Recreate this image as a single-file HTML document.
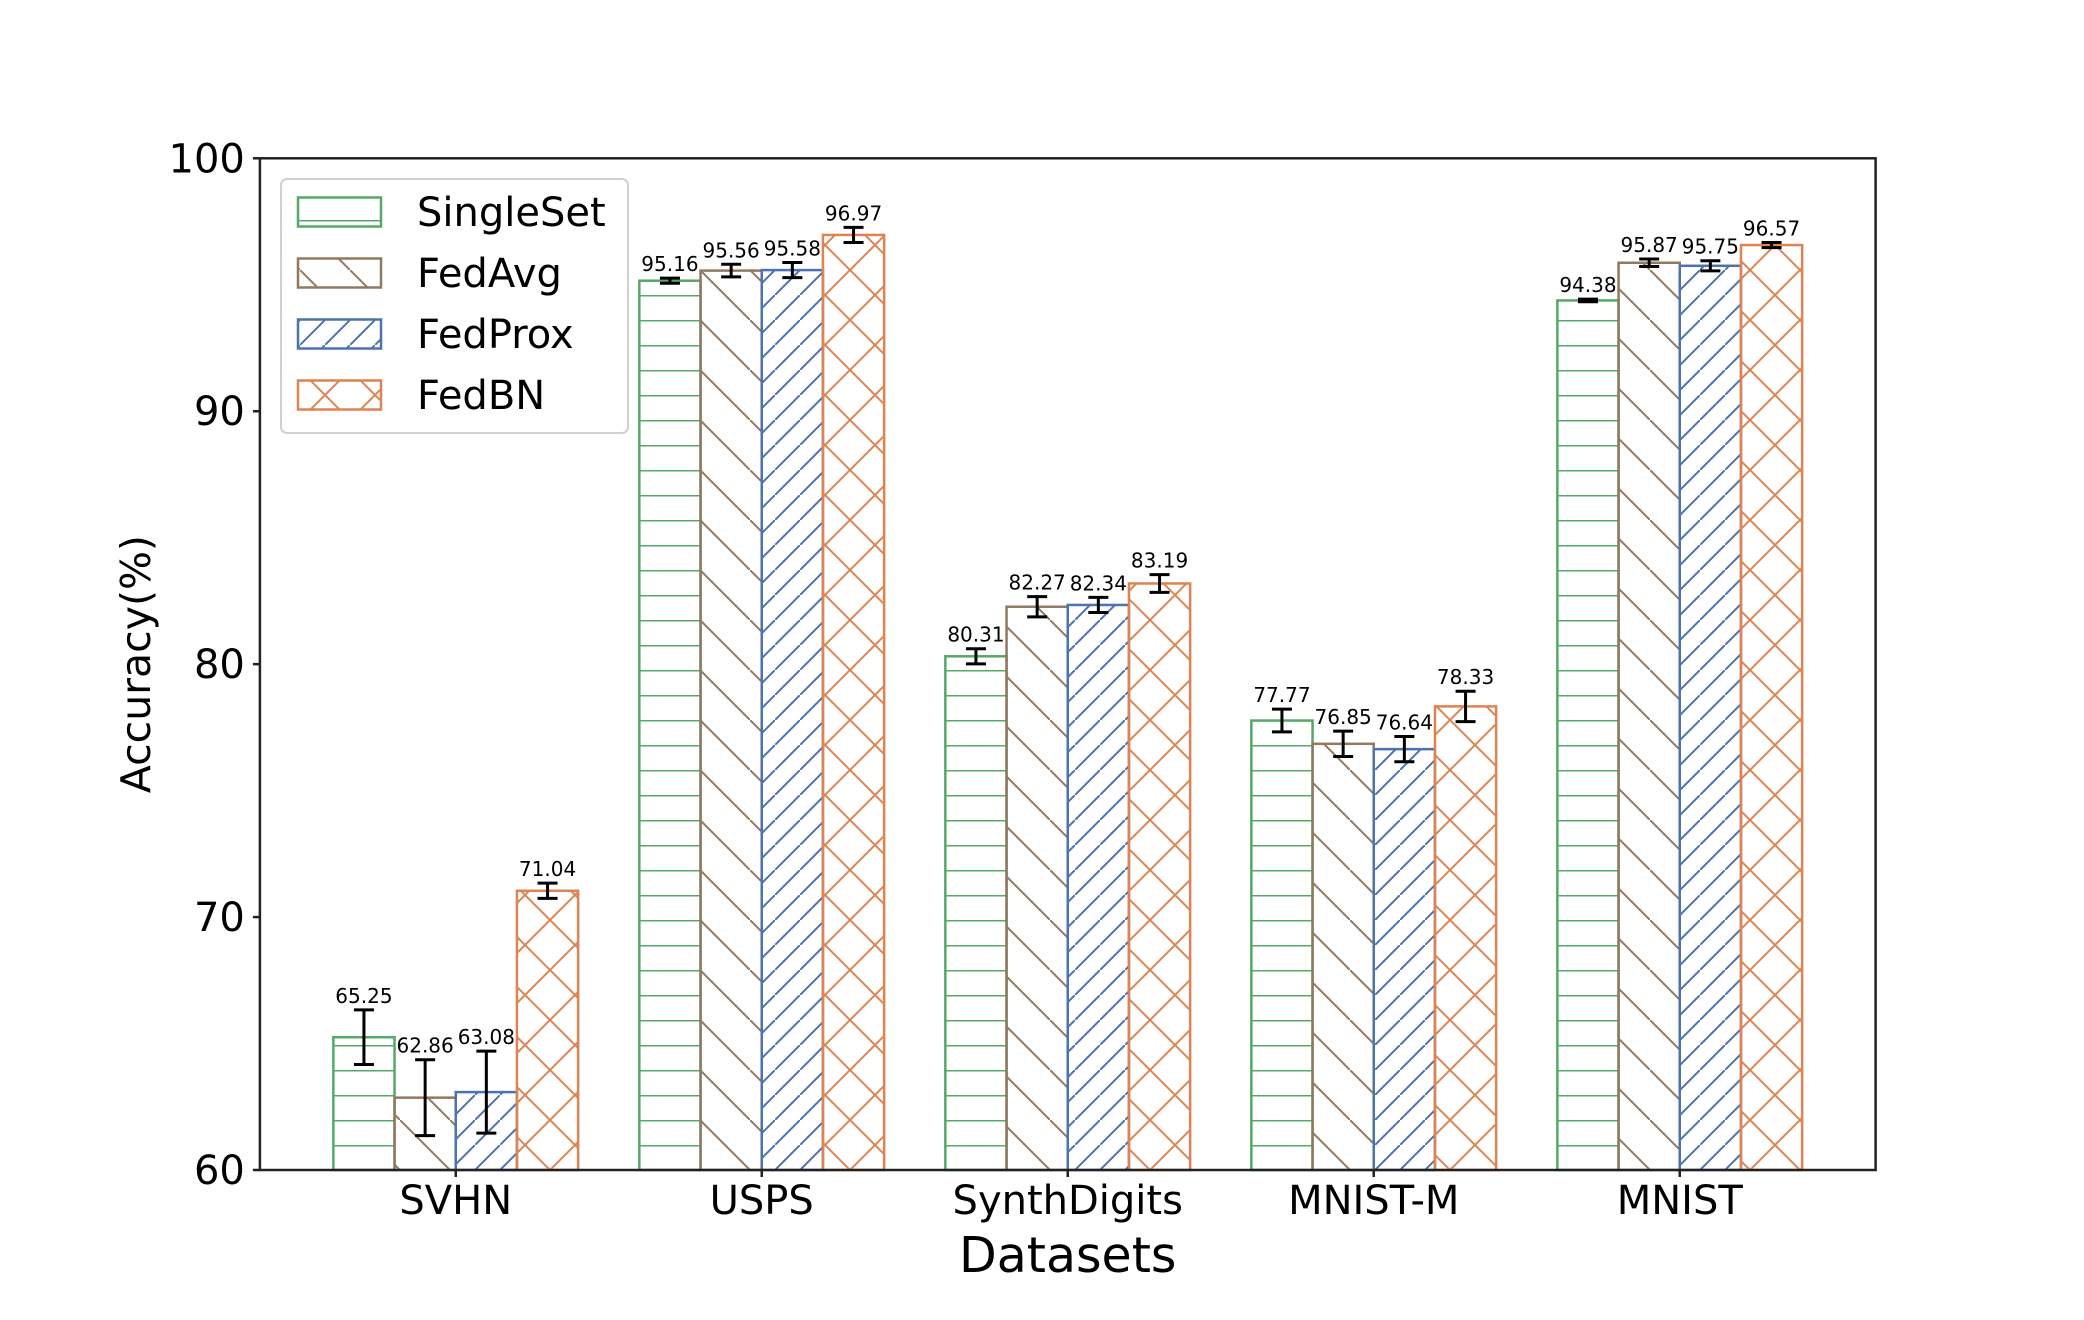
<!DOCTYPE html>
<html><head><meta charset="utf-8"><style>
body{margin:0;background:#fff;}
svg text{font-family:"DejaVu Sans","Liberation Sans",sans-serif;}
</style></head><body>
<svg id="chart" width="2084" height="1315" viewBox="0 0 2084 1315" xmlns="http://www.w3.org/2000/svg">
<defs>
<pattern id="h-single" patternUnits="userSpaceOnUse" width="25" height="25" x="0" y="1170"><line x1="0" y1="0" x2="25" y2="0" stroke="#55a868" stroke-width="3"/></pattern>
<pattern id="h-avg" patternUnits="userSpaceOnUse" width="50" height="50" x="0" y="1170"><line x1="-5" y1="-5" x2="55" y2="55" stroke="#937860" stroke-width="2"/></pattern>
<pattern id="h-prox" patternUnits="userSpaceOnUse" width="25" height="25" x="0" y="1170"><line x1="-5" y1="30" x2="30" y2="-5" stroke="#4c72b0" stroke-width="2"/></pattern>
<pattern id="h-bn" patternUnits="userSpaceOnUse" width="50" height="50" x="0" y="1170"><line x1="-5" y1="-5" x2="55" y2="55" stroke="#dd8452" stroke-width="2"/><line x1="-5" y1="55" x2="55" y2="-5" stroke="#dd8452" stroke-width="2"/></pattern>
</defs>
<g id="plot"></g>
</svg>
<script>
const categories = ["SVHN","USPS","SynthDigits","MNIST-M","MNIST"];
const seriesNames = ["SingleSet","FedAvg","FedProx","FedBN"];
const singleSet = [65.25,95.16,80.31,77.77,94.38];
const fedAvg = [62.86,95.56,82.27,76.85,95.87];
const fedProx = [63.08,95.58,82.34,76.64,95.75];
const fedBN = [71.04,96.97,83.19,78.33,96.57];
const singleSetErr = [1.08,0.1,0.3,0.45,0.05];
const fedAvgErr = [1.5,0.25,0.4,0.5,0.15];
const fedProxErr = [1.62,0.3,0.3,0.5,0.2];
const fedBNErr = [0.3,0.3,0.35,0.6,0.1];
const yTicks = [60,70,80,90,100];

const NS="http://www.w3.org/2000/svg";
const L=259.9,R=1875.6,T=158.3,B=1170;
const yMin=60,yMax=100;
const xs=i=>L+(i+0.64)*(R-L)/5.28;
const ys=v=>B-(v-yMin)*(B-T)/(yMax-yMin);
const unit=(R-L)/5.28;
const bw=unit*0.2;
const g=document.getElementById('plot');
function mk(tag,attrs,parent){const e=document.createElementNS(NS,tag);for(const k in attrs)e.setAttribute(k,attrs[k]);(parent||g).appendChild(e);return e;}
const series=[singleSet,fedAvg,fedProx,fedBN];
const errs=[singleSetErr,fedAvgErr,fedProxErr,fedBNErr];
const colors=["#55a868","#937860","#4c72b0","#dd8452"];
const fills=["url(#h-single)","url(#h-avg)","url(#h-prox)","url(#h-bn)"];
const keys=["singleset","fedavg","fedprox","fedbn"];
for(let s=0;s<4;s++){
  for(let i=0;i<categories.length;i++){
    const v=series[s][i];
    const x0=xs(i)+(s-2)*bw;
    const r=mk('rect',{x:x0,y:ys(v),width:bw,height:ys(yMin)-ys(v),fill:fills[s],stroke:colors[s],'stroke-width':2.5});
    
    
  }
}
for(let s=0;s<4;s++){
  for(let i=0;i<categories.length;i++){
    const v=series[s][i],e=errs[s][i];
    const cx=xs(i)+(s-1.5)*bw;
    const eg=mk('g',{});
    
    
    const yt=ys(v+e),yb=Math.min(ys(v-e),B);
    mk('line',{x1:cx,x2:cx,y1:yt,y2:yb,stroke:'#000','stroke-width':3},eg);
    mk('line',{x1:cx-10,x2:cx+10,y1:yt,y2:yt,stroke:'#000','stroke-width':3},eg);
    if(ys(v-e)<=B) mk('line',{x1:cx-10,x2:cx+10,y1:yb,y2:yb,stroke:'#000','stroke-width':3},eg);
    const t=mk('text',{x:cx,y:yt-7,'text-anchor':'middle','font-size':20,fill:'#000'});
    t.textContent=v.toFixed(2);
    
    
  }
}
const fr=mk('rect',{x:L,y:T,width:R-L,height:B-T,fill:'none',stroke:'#222','stroke-width':2.5});


for(const t of yTicks){
  mk('line',{x1:L-7,x2:L,y1:ys(t),y2:ys(t),stroke:'#222','stroke-width':2.5});
  const tx=mk('text',{x:L-15,y:ys(t)+14,'text-anchor':'end','font-size':40,fill:'#000'});
  tx.textContent=t;
  
  
}
for(let i=0;i<categories.length;i++){
  mk('line',{x1:xs(i),x2:xs(i),y1:B,y2:B+7,stroke:'#222','stroke-width':2.5});
  const tx=mk('text',{x:xs(i),y:1214,'text-anchor':'middle','font-size':40,fill:'#000'});
  tx.textContent=categories[i];
  
  
}
const xl=mk('text',{x:(L+R)/2,y:1272,'text-anchor':'middle','font-size':49,fill:'#000'});
xl.textContent='Datasets';


const yl=mk('text',{x:0,y:0,'text-anchor':'middle','font-size':41,fill:'#000',transform:'translate(150,'+((T+B)/2)+') rotate(-90)'});
yl.textContent='Accuracy(%)';


const lg=mk('g',{});


mk('rect',{x:281,y:179,width:347,height:254,rx:6,fill:'#fff','fill-opacity':0.8,stroke:'#d0d0d0','stroke-width':2},lg);
for(let s=0;s<4;s++){
  const cy=212+s*61;
  const eg=mk('g',{},lg);
  
  
  mk('rect',{x:298,y:cy-14.5,width:83,height:29,fill:fills[s],stroke:colors[s],'stroke-width':2.5},eg);
  const tx=mk('text',{x:417,y:cy+14,'font-size':40,fill:'#000'},eg);
  tx.textContent=seriesNames[s];
}
</script>
</body></html>
